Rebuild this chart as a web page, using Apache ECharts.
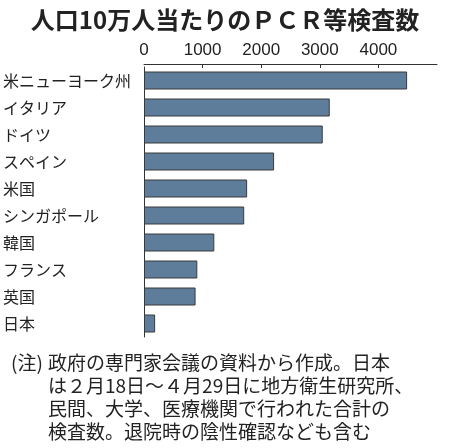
<!DOCTYPE html>
<html>
<head>
<meta charset="utf-8">
<script src="https://cdn.jsdelivr.net/npm/echarts@6/dist/echarts.min.js"></script>
<style>html,body{margin:0;padding:0;background:#fff}#c{width:450px;height:448px}</style>
</head>
<body>
<div id="c"></div>
<script>
const titleText = '人口10万人当たりのＰＣＲ等検査数';
const categories = ['米ニューヨーク州','イタリア','ドイツ','スペイン','米国','シンガポール','韓国','フランス','英国','日本'];
const values = [4490, 3170, 3050, 2220, 1760, 1710, 1200, 910, 880, 190];
const tickValues = [0, 1000, 2000, 3000, 4000];
const notePrefix = '(注)';
const noteLines = [
  '政府の専門家会議の資料から作成。日本',
  'は２月18日～４月29日に地方衛生研究所、',
  '民間、大学、医療機関で行われた合計の',
  '検査数。退院時の陰性確認なども含む'
];

const chart = echarts.init(document.getElementById('c'), null, {renderer: 'canvas'});
const cjk = '"Noto Sans CJK JP", "Noto Sans CJK SC", sans-serif';
chart.setOption({
  animation: false,
  backgroundColor: '#fff',
  title: {
    text: titleText,
    left: 'center',
    top: 3,
    textStyle: {fontFamily: cjk, fontSize: 24, fontWeight: 'bold', color: '#222'}
  },
  grid: {left: 142, right: 13, top: 67, height: 270},
  xAxis: {
    type: 'value',
    position: 'top',
    offset: 3,
    min: 0, max: 5000, interval: 1000,
    splitLine: {show: false},
    axisLine: {show: true, lineStyle: {color: '#333', width: 1}},
    axisTick: {show: true, inside: true, length: 4, customValues: [1000, 2000, 3000, 4000], lineStyle: {color: '#333'}},
    axisLabel: {
      customValues: tickValues,
      formatter: function (v) { return String(v); },
      margin: 5,
      fontFamily: '"Liberation Sans", sans-serif',
      fontSize: 17, color: '#222'
    }
  },
  yAxis: {
    type: 'category',
    data: categories,
    inverse: true,
    axisLine: {show: true, lineStyle: {color: '#333', width: 1}},
    axisTick: {show: false},
    axisLabel: {align: 'left', margin: 141, fontFamily: cjk, fontSize: 16, color: '#222'}
  },
  series: [{
    type: 'bar',
    data: values,
    barWidth: 18,
    itemStyle: {color: '#5e7d9b', borderColor: '#3a3a3a', borderWidth: 1}
  }],
  graphic: [
    {type: 'text', left: 11, top: 351, style: {text: notePrefix, fontFamily: cjk, fontSize: 19, lineHeight: 23, fill: '#222'}},
    {type: 'text', left: 48, top: 351, style: {text: noteLines.join('\n'), fontFamily: cjk, fontSize: 19, lineHeight: 23, fill: '#222'}}
  ]
});
</script>
</body>
</html>
